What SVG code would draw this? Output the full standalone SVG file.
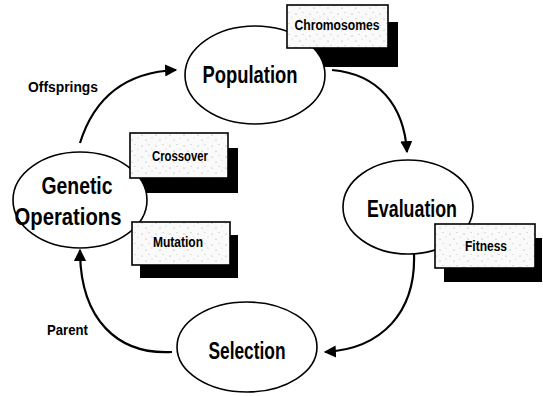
<svg xmlns="http://www.w3.org/2000/svg" width="543" height="396" viewBox="0 0 543 396">
<style>
.shadow{fill:#000}
.node{fill:#fff;stroke:#000;stroke-width:1.6}
.box{fill:url(#speckle);stroke:#000;stroke-width:1.6}
.big{font-family:"Liberation Sans",Arial,sans-serif;font-weight:bold;font-size:23px;fill:#000}
.small{font-family:"Liberation Sans",Arial,sans-serif;font-weight:bold;font-size:14px;fill:#000}
.edge{fill:none;stroke:#000;stroke-width:2.2}
</style>
<defs>
<pattern id="speckle" width="14" height="11" patternUnits="userSpaceOnUse">
<rect width="14" height="11" fill="#fafafa"/>
<circle cx="2" cy="3" r="0.6" fill="#999"/>
<circle cx="9" cy="1.5" r="0.5" fill="#aaa"/>
<circle cx="6" cy="8" r="0.6" fill="#999"/>
<circle cx="12" cy="6" r="0.5" fill="#bbb"/>
</pattern>
<marker id="arrow" viewBox="0 0 10 10" refX="9" refY="5" markerWidth="5.5" markerHeight="5.5" orient="auto" markerUnits="strokeWidth">
<path d="M0,0 L10,5 L0,10 z" fill="#000"/>
</marker>
</defs>

<g id="shadows">
<rect class="shadow" x="297" y="22" width="101" height="45"/>
<rect class="shadow" x="140" y="148" width="98" height="45"/>
<rect class="shadow" x="140" y="235" width="98" height="43"/>
<rect class="shadow" x="444" y="238" width="98" height="44"/>
</g>

<g id="connectors">
<path class="edge" marker-end="url(#arrow)" d="M80,143 C95,95 128,72 176,70"/>
<path class="edge" marker-end="url(#arrow)" d="M332,70 C378,74 404,105 407,152"/>
<path class="edge" marker-end="url(#arrow)" d="M414,254 C416,312 382,349 325,352"/>
<path class="edge" marker-end="url(#arrow)" d="M172,352 C118,355 80,320 80,250"/>
</g>

<g id="population">
<ellipse class="node" cx="255" cy="75" rx="70" ry="49"/>
<text class="big" x="250" y="83" text-anchor="middle" textLength="95" lengthAdjust="spacingAndGlyphs">Population</text>
</g>
<g id="evaluation">
<ellipse class="node" cx="408" cy="207" rx="65" ry="47"/>
<text class="big" x="412" y="217" text-anchor="middle" textLength="90" lengthAdjust="spacingAndGlyphs">Evaluation</text>
</g>
<g id="selection">
<ellipse class="node" cx="247" cy="347" rx="70" ry="45"/>
<text class="big" x="247" y="359" text-anchor="middle" textLength="77" lengthAdjust="spacingAndGlyphs">Selection</text>
</g>
<g id="genetic-operations">
<ellipse class="node" cx="80" cy="200" rx="67" ry="48"/>
<text class="big" x="77" y="194" text-anchor="middle" textLength="71" lengthAdjust="spacingAndGlyphs">Genetic</text>
<text class="big" x="68" y="225" text-anchor="middle" textLength="107" lengthAdjust="spacingAndGlyphs">Operations</text>
</g>

<g id="chromosomes">
<rect class="box" x="287" y="5" width="101" height="43"/>
<text class="small" x="337" y="30" text-anchor="middle" textLength="85" lengthAdjust="spacingAndGlyphs">Chromosomes</text>
</g>
<g id="crossover">
<rect class="box" x="130" y="133" width="98" height="45"/>
<text class="small" x="180" y="161" text-anchor="middle" textLength="56" lengthAdjust="spacingAndGlyphs">Crossover</text>
</g>
<g id="mutation">
<rect class="box" x="132" y="222" width="98" height="43"/>
<text class="small" x="178" y="247" text-anchor="middle" textLength="50" lengthAdjust="spacingAndGlyphs">Mutation</text>
</g>
<g id="fitness">
<rect class="box" x="435" y="224" width="100" height="44"/>
<text class="small" x="486" y="251" text-anchor="middle" textLength="42" lengthAdjust="spacingAndGlyphs">Fitness</text>
</g>

<g id="labels">
<text class="small" x="28" y="92" textLength="70" lengthAdjust="spacingAndGlyphs">Offsprings</text>
<text class="small" x="47" y="335" textLength="41" lengthAdjust="spacingAndGlyphs">Parent</text>
</g>
</svg>
